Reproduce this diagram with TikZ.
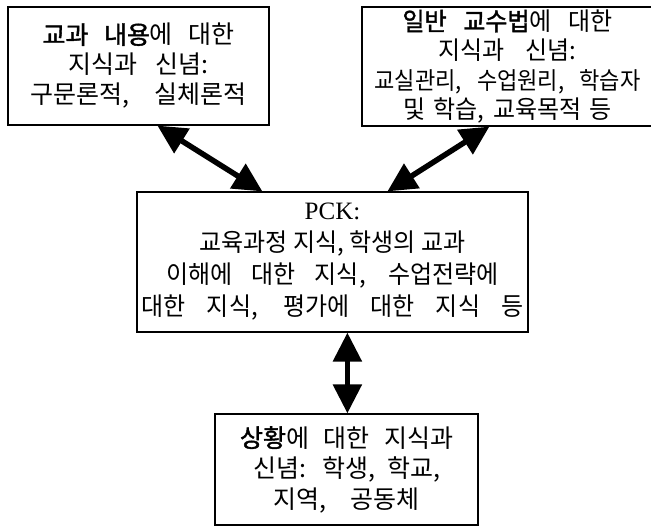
\documentclass[tikz,border=0pt]{standalone}
\usepackage{fontspec}
\setmainfont{Liberation Serif}
\newfontfamily\kr{Noto Sans CJK KR}
\newfontfamily\krb[FakeBold=1.6]{Noto Sans CJK KR}
\newfontfamily\krm[FakeStretch=0.96]{Noto Sans CJK KR}
\newfontfamily\krmb[FakeStretch=0.96,FakeBold=1.6]{Noto Sans CJK KR}
\newfontfamily\krn[FakeStretch=0.92]{Noto Sans CJK KR}
\usetikzlibrary{arrows.meta}
\newcommand{\krline}[2]{\makebox[#1pt][s]{#2}}
\tikzset{
  box/.style={draw, line width=1.2pt, inner sep=0pt, align=center,
    font=\kr\fontsize{25}{30}\selectfont},
  dbl/.style={line width=5.5pt,
    {Triangle[length=29pt,width=28pt]}-{Triangle[length=29pt,width=28pt]}}
}
\begin{document}
\begin{tikzpicture}[x=1pt,y=-1pt]
\useasboundingbox (0,0) rectangle (651,526);
\node[box, minimum width=261pt, minimum height=118pt] (b1) at (138.5,66)
  {\krline{192}{{\krb 교과 내용}에 대한}\\ \krline{139}{지식과 신념:}\\ \krline{216}{구문론적, 실체론적}};
\node[box, minimum width=291pt, minimum height=119pt,
  font=\krm\fontsize{25}{29.3}\selectfont] (b2) at (507.5,66.5)
  {\krline{210}{{\krmb 일반 교수법}에 대한}\\ \krline{138}{지식과 신념:}\\ {\krn\fontsize{24}{29.3}\selectfont\krline{266}{교실관리, 수업원리, 학습자}}\\ \krline{208}{및 학습, 교육목적 등}};
\node[box, minimum width=391pt, minimum height=140pt,
  font=\krm\fontsize{25}{32}\selectfont] (pck) at (332.5,262)
  {{\rmfamily\fontsize{25}{32}\selectfont PCK:}\\ 교육과정 지식, 학생의 교과\\ \krline{332}{이해에 대한 지식, 수업전략에}\\ \krline{382}{대한 지식, 평가에 대한 지식 등}};
\node[box, minimum width=263pt, minimum height=111pt,
  font=\kr\fontsize{25}{30.5}\selectfont] (b4) at (346.5,469.5)
  {\krline{213}{{\krb 상황}에 대한 지식과}\\ \krline{187}{신념: 학생, 학교,}\\ \krline{147}{지역, 공동체}};
\draw[dbl] ([xshift=150pt]b1.south west) -- ([xshift=126pt]pck.north west);
\draw[dbl] ([xshift=128pt]b2.south west) -- ([xshift=251pt]pck.north west);
\draw[dbl] ([xshift=211pt]pck.south west) -- ([xshift=133pt]b4.north west);
\end{tikzpicture}
\end{document}
